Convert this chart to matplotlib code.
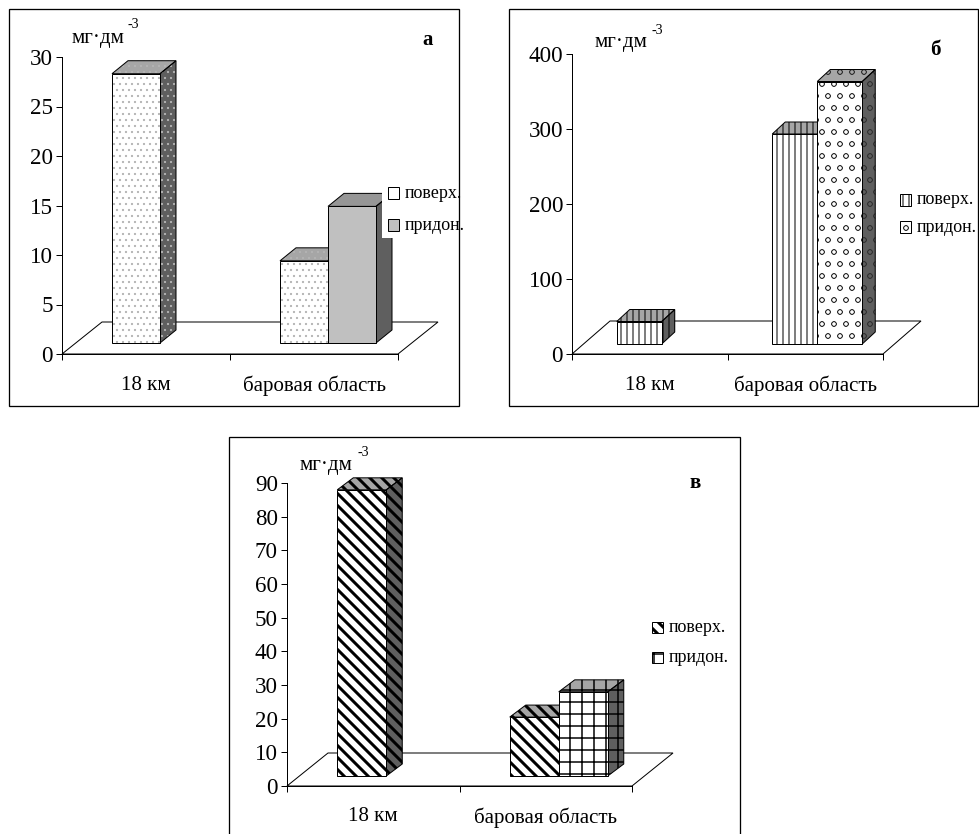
import numpy as np
import matplotlib
matplotlib.use("Agg")
import matplotlib.pyplot as plt
from matplotlib.patches import Polygon, Rectangle

plt.rcParams['font.family'] = ['Liberation Serif', 'DejaVu Serif']

# ---------------- data ----------------
categories = ["18 км", "баровая область"]
series_names = ["поверх.", "придон."]
unit_text = "мг·дм"
unit_power = "-3"

a_surface = [27.2, 8.3]
a_bottom = [np.nan, 13.8]
a_yticks = [0, 5, 10, 15, 20, 25, 30]

b_surface = [30, 280]
b_bottom = [np.nan, 350]
b_yticks = [0, 100, 200, 300, 400]

c_surface = [85, 17.5]
c_bottom = [np.nan, 25]
c_yticks = [0, 10, 20, 30, 40, 50, 60, 70, 80, 90]

# ---------------- layout (pixels) ----------------
W, H = 979, 834
DPI = 72
fig = plt.figure(figsize=(W / DPI, H / DPI), dpi=DPI)


def fx(x):
    return x / W


def fy(y):
    return 1 - y / H


def set_hlw(p, lw):
    try:
        p.set_hatch_linewidth(lw)
    except AttributeError:
        pass


def face(ax, verts, fc, st, z):
    base = Polygon(verts, closed=True, facecolor=fc, edgecolor='none', linewidth=0,
                   zorder=z, clip_on=False)
    ax.add_patch(base)
    if st.get('hatch'):
        with plt.rc_context({'hatch.linewidth': st['hlw']}):
            h = Polygon(verts, closed=True, fill=False, edgecolor=st['hc'], linewidth=0,
                        hatch=st['hatch'], zorder=z + 0.01, clip_on=False)
        set_hlw(h, st['hlw'])
        ax.add_patch(h)
    ax.add_patch(Polygon(verts, closed=True, fill=False, edgecolor='black', linewidth=1,
                         zorder=z + 0.02, clip_on=False))


def panel(cfg, surface, bottom, yticks, styles):
    x0, x1, y0, yt = cfg['x0'], cfg['x1'], cfg['y0'], cfg['ytop']
    ax = fig.add_axes([fx(x0), fy(y0), (x1 - x0) / W, (y0 - yt) / H])
    ax.patch.set_visible(False)
    ymax = yticks[-1]
    ax.set_xlim(-0.5, 1.5)
    ax.set_ylim(0, ymax)
    sx = (x1 - x0) / 2.0
    sy = (y0 - yt) / ymax

    def off(p):
        return p[0] / sx, p[1] / sy

    fdx, fdy = off(cfg['floor'])
    ax.add_patch(Polygon([(-0.5, 0), (1.5, 0), (1.5 + fdx, fdy), (-0.5 + fdx, fdy)],
                         closed=True, facecolor='white', edgecolor='black', linewidth=1,
                         zorder=1, clip_on=False))
    w = cfg['barw'] / sx
    ox, oy = off(cfg['front'])
    bx, by = off(cfg['bdepth'])
    idx = np.arange(len(categories))
    for k, (vals, st) in enumerate(zip([surface, bottom], styles)):
        vals = np.asarray(vals, float)
        xs = idx + (k - 0.5) * w + ox
        bars = ax.bar(xs, np.nan_to_num(vals), width=w, bottom=oy, facecolor='none',
                      edgecolor='none', linewidth=0, zorder=0, clip_on=False)
        for rect, v in zip(bars, vals):
            rect.set_visible(False)
            if np.isnan(v):
                continue
            x, y, ww, hh = rect.get_x(), rect.get_y(), rect.get_width(), rect.get_height()
            top = [(x, y + hh), (x + bx, y + hh + by), (x + ww + bx, y + hh + by), (x + ww, y + hh)]
            side = [(x + ww, y), (x + ww + bx, y + by), (x + ww + bx, y + hh + by), (x + ww, y + hh)]
            front = [(x, y), (x + ww, y), (x + ww, y + hh), (x, y + hh)]
            face(ax, top, st['top'], st, 2 + 2 * k)
            face(ax, side, st['side'], st, 2 + 2 * k)
            face(ax, front, st['front'], st, 3 + 2 * k)

    for s in ['top', 'right']:
        ax.spines[s].set_visible(False)
    for s in ['left', 'bottom']:
        ax.spines[s].set_linewidth(1)
    ax.set_yticks(yticks)
    ax.set_yticklabels([str(t) for t in yticks])
    ax.tick_params(axis='y', direction='out', length=6, width=1, pad=3, labelsize=23)
    ax.set_xticks([-0.5, 0.5, 1.5])
    ax.set_xticklabels([])
    ax.set_xticks([0, 1], minor=True)
    ax.set_xticklabels(categories, minor=True)
    ax.tick_params(axis='x', which='major', direction='out', length=6, width=1)
    ax.tick_params(axis='x', which='minor', length=0, pad=cfg['catpad'], labelsize=21)

    # frame
    fr = cfg['frame']
    fig.add_artist(Rectangle((fx(fr[0]), fy(fr[3])), (fr[2] - fr[0]) / W, (fr[3] - fr[1]) / H,
                             transform=fig.transFigure, fill=False, edgecolor='black',
                             linewidth=1.3, zorder=1))
    # unit label
    ux, uy = cfg['unit']
    fig.text(fx(ux), fy(uy), unit_text, fontsize=21, va='baseline', ha='left')
    px, py = cfg['power']
    fig.text(fx(px), fy(py), unit_power, fontsize=14, va='center', ha='left')
    # panel letter
    lx, ly = cfg['letter_pos']
    fig.text(fx(lx), fy(ly), cfg['letter'], fontsize=21, fontweight='bold', ha='center', va='center')
    # legend
    lgx, lgy0, lgdy = cfg['legend']
    if cfg.get('legend_box'):
        bx0, by0, bx1, by1 = cfg['legend_box']
        fig.add_artist(Rectangle((fx(bx0), fy(by1)), (bx1 - bx0) / W, (by1 - by0) / H,
                                 transform=fig.transFigure, facecolor='white',
                                 edgecolor='none', zorder=5))
    for k, (name, st) in enumerate(zip(series_names, styles)):
        cy = lgy0 + k * lgdy
        rect_args = ((fx(lgx), fy(cy + 5.5)), 11 / W, 11 / H)
        fig.add_artist(Rectangle(*rect_args, transform=fig.transFigure, facecolor=st['front'],
                                 edgecolor='none', zorder=6))
        lh = st.get('leg_hatch', st.get('hatch'))
        if lh:
            with plt.rc_context({'hatch.linewidth': st['hlw']}):
                hp = Rectangle(*rect_args, transform=fig.transFigure, fill=False,
                               edgecolor=st['hc'], linewidth=0, hatch=lh, zorder=6.1)
            set_hlw(hp, st['hlw'])
            fig.add_artist(hp)
        fig.add_artist(Rectangle(*rect_args, transform=fig.transFigure, fill=False,
                                 edgecolor='black', linewidth=1, zorder=6.2))
        fig.text(fx(lgx + 17), fy(cy), name, fontsize=18, va='center', ha='left', zorder=7)
    return ax


TOP = '#a6a6a6'
SIDE = '#5f5f5f'

styles_a = [
    dict(front='white', top=TOP, side=SIDE, hatch='..', hc='#b4b4b4', hlw=1.0, leg_hatch=None),
    dict(front='#c0c0c0', top='#969696', side=SIDE, hatch=None, hc='black', hlw=1.0),
]
styles_b = [
    dict(front='white', top=TOP, side=SIDE, hatch='||', hc='black', hlw=1.0),
    dict(front='white', top=TOP, side=SIDE, hatch='o', hc='#333333', hlw=0.7),
]
styles_c = [
    dict(front='white', top=TOP, side=SIDE, hatch='\\\\', hc='black', hlw=3.0),
    dict(front='white', top=TOP, side=SIDE, hatch='+', hc='black', hlw=1.5),
]

cfg_a = dict(x0=62, x1=398, y0=354, ytop=57, floor=(40, 32), front=(14, 11), bdepth=(16, 13),
             barw=48, catpad=22, frame=(9, 9, 459, 406), unit=(72, 43), power=(127, 25),
             letter='а', letter_pos=(428, 40), legend=(388, 193, 32), legend_box=(382, 187, 457, 238))
cfg_b = dict(x0=572, x1=883, y0=354, ytop=54, floor=(38, 33), front=(12, 10), bdepth=(13, 12),
             barw=45, catpad=22, frame=(509, 9, 978, 406), unit=(595, 47), power=(651, 30),
             letter='б', letter_pos=(935, 50), legend=(900, 200, 27), legend_box=None)
cfg_c = dict(x0=287, x1=632, y0=786, ytop=483, floor=(41, 33), front=(13, 10), bdepth=(16, 12),
             barw=49, catpad=21, frame=(229, 437, 740, 838), unit=(300, 470), power=(358, 453),
             letter='в', letter_pos=(695, 483), legend=(652, 627, 30), legend_box=None)

panel(cfg_a, a_surface, a_bottom, a_yticks, styles_a)
panel(cfg_b, b_surface, b_bottom, b_yticks, styles_b)
panel(cfg_c, c_surface, c_bottom, c_yticks, styles_c)

fig.savefig('out.png', dpi=DPI, facecolor='white')
